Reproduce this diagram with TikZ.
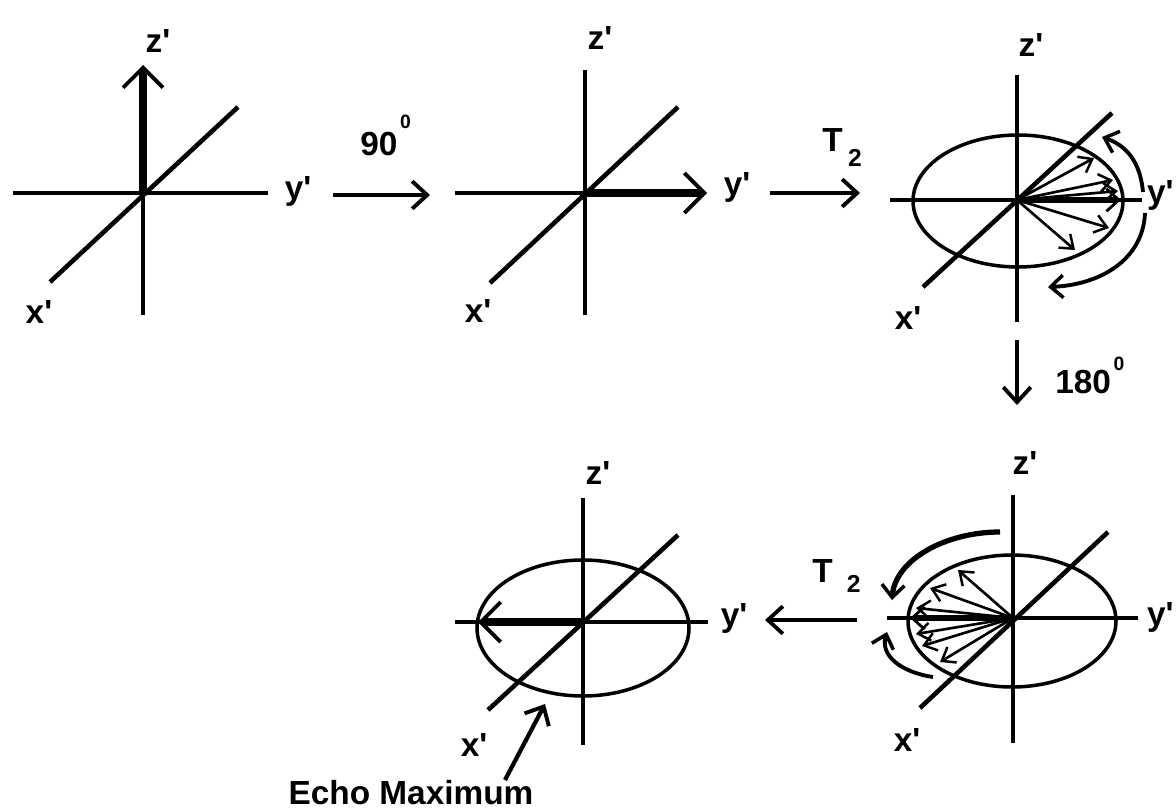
\documentclass[tikz,border=0pt]{standalone}
\usepackage{fontspec}
\setmainfont{Liberation Sans}
\usetikzlibrary{arrows.meta}
\newcommand{\prm}{\textquotesingle}

\begin{document}
\begin{tikzpicture}[x=0.02cm,y=-0.02cm]
\tikzset{
  axis/.style={line width=2pt},
  diag/.style={line width=2.6pt},
  ring/.style={line width=2pt},
  spin/.style={line width=4.5pt,-{Straight Barb[length=4mm,width=8mm,line width=2.2pt]}},
  bold/.style={line width=3.5pt,-{Straight Barb[length=2.5mm,width=4.5mm,line width=1.6pt]}},
  fan/.style={line width=1.5pt,-{Straight Barb[length=2.4mm,width=3.6mm,line width=1.4pt]}},
  turn/.style={line width=2.4pt,-{Straight Barb[length=3mm,width=5.5mm,line width=2.2pt]}},
  curl/.style={line width=2.2pt,-{Straight Barb[length=2.5mm,width=4.5mm,line width=2pt]}},
  lab/.style={inner sep=0pt,font=\bfseries\fontsize{19}{21}\selectfont}
}
\useasboundingbox (0,0) rectangle (1176,811);

% first frame: magnetisation along z'
\coordinate (o1) at (143,193);
\draw[axis] (13,193) -- (268,193);
\draw[axis] (o1) -- (143,315);
\draw[diag] (50,282) -- (238,107);
\draw[spin] (o1) -- (143,65);
\node[lab] (z1) at (158,41) {z\prm};
\node[lab] (y1) at (298,191) {y\prm};
\node[lab] (x1) at (39,312) {x\prm};

% 90 degree pulse
\coordinate (p1) at (333,195);
\coordinate (q1) at (430,195);
\draw[turn] (p1) -- (q1);
\node[lab,anchor=base west] (deg90) at (360,155) {90\hspace{1.5pt}\raisebox{15pt}{\fontsize{11}{11}\selectfont 0}};

% second frame: along y'
\coordinate (o2) at (585,193);
\draw[axis] (455,193) -- (o2);
\draw[axis] (585,70) -- (585,315);
\draw[diag] (490,283) -- (678,107);
\draw[spin] (o2) -- (707,193);
\node[lab] (z2) at (600,38) {z\prm};
\node[lab] (y2) at (737,187) {y\prm};
\node[lab] (x2) at (478,311) {x\prm};

% T2 dephasing
\coordinate (p2) at (770,193);
\coordinate (q2) at (860,193);
\draw[turn] (p2) -- (q2);
\node[lab,anchor=base west] (t2a) at (822,152) {T\hspace{3pt}\raisebox{-8.5pt}{\fontsize{14}{14}\selectfont 2}};

% third frame: fanning out
\coordinate (o3) at (1017,200);
\draw[ring] (1018,201) ellipse [x radius=105, y radius=66];
\draw[axis] (1017,75) -- (1017,322);
\draw[axis] (890,200) -- (1142,200);
\draw[diag] (923,287) -- (1112,113);
\draw[fan] (o3) -- (1094,158);
\draw[fan] (o3) -- (1113,180);
\draw[fan] (o3) -- (1118,191);
\draw[fan] (o3) -- (1109,228);
\draw[fan] (o3) -- (1075,250);
\draw[bold] (o3) -- (1121,200);
\draw[curl] (1143,192) .. controls (1140,160) and (1125,145) .. (1102,137);
\draw[curl] (1145,213) .. controls (1143,260) and (1100,285) .. (1048,287);
\node[lab] (z3) at (1031,45) {z\prm};
\node[lab,anchor=east] (y3) at (1174,195) {y\prm};
\node[lab] (x3) at (908,318) {x\prm};

% 180 degree pulse
\coordinate (p3) at (1017,340);
\coordinate (q3) at (1017,405);
\draw[turn] (p3) -- (q3);
\node[lab,anchor=base west] (deg180) at (1055,393) {180\hspace{1.5pt}\raisebox{13pt}{\fontsize{11}{11}\selectfont 0}};

% fourth frame: refocusing
\coordinate (o4) at (1013,618);
\draw[ring] (1012,621) ellipse [x radius=104, y radius=66];
\draw[axis] (1013,495) -- (1013,743);
\draw[axis] (887,618) -- (1138,618);
\draw[diag] (920,708) -- (1108,532);
\draw[fan] (o4) -- (958,570);
\draw[fan] (o4) -- (930,588);
\draw[fan] (o4) -- (916,608);
\draw[fan] (o4) -- (916,634);
\draw[fan] (o4) -- (922,646);
\draw[fan] (o4) -- (940,662);
\draw[bold] (o4) -- (910,618);
\draw[curl,line width=3pt] (1000,532) .. controls (945,532) and (895,560) .. (892,600);
\draw[curl] (933,677) .. controls (900,672) and (880,655) .. (887,632);
\node[lab] (z4) at (1025,463) {z\prm};
\node[lab,anchor=east] (y4) at (1174,617) {y\prm};
\node[lab] (x4) at (907,740) {x\prm};

% T2 back
\coordinate (p4) at (857,620);
\coordinate (q4) at (765,620);
\draw[turn] (p4) -- (q4);
\node[lab,anchor=base west] (t2b) at (812,582) {T\hspace{8pt}\raisebox{-5.7pt}{\fontsize{14}{14}\selectfont 2}};

% fifth frame: echo
\coordinate (o5) at (583,622);
\draw[ring] (583,628) ellipse [x radius=106, y radius=68];
\draw[axis] (583,498) -- (583,745);
\draw[axis] (455,622) -- (708,622);
\draw[diag] (488,710) -- (678,535);
\draw[spin] (o5) -- (478,622);
\node[lab] (z5) at (598,473) {z\prm};
\node[lab] (y5) at (734,618) {y\prm};
\node[lab] (x5) at (474,745) {x\prm};

\coordinate (e1) at (505,780);
\coordinate (e2) at (545,704);
\draw[turn] (e1) -- (e2);
\node[lab] (echo) at (411,793) {Echo Maximum};
\end{tikzpicture}
\end{document}
